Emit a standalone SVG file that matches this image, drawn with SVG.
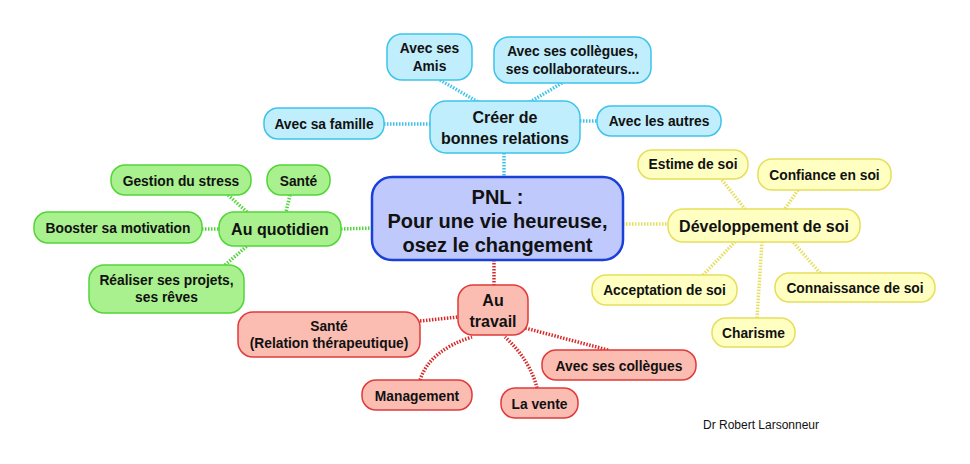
<svg xmlns="http://www.w3.org/2000/svg" width="970" height="464" viewBox="0 0 970 464">
<style>
text{font-family:"Liberation Sans",Arial,sans-serif;font-weight:bold;fill:#111;text-anchor:middle}
.t13{font-size:13.8px}
.t15{font-size:16px}
.t20{font-size:20px}
.c{fill:#c0eefc;stroke:#3ec3ea;stroke-width:1.5}
.g{fill:#a9f08e;stroke:#52d538;stroke-width:1.5}
.y{fill:#ffffc2;stroke:#e6df5c;stroke-width:1.5}
.r{fill:#fbbcb1;stroke:#e03a3a;stroke-width:1.5}
.cl{stroke:#3ec3ea}
.gl{stroke:#52d538}
.yl{stroke:#e6df5c}
.rl{stroke:#d82a2a}
#connectors path{fill:none;stroke-width:3.5;stroke-dasharray:1.5 1.5}
</style>
<rect width="970" height="464" fill="#fff"/>
<g id="connectors">
<path class="cl" d="M440 80 L478 102"/>
<path class="cl" d="M562 83 L530 102"/>
<path class="cl" d="M384 124 L430 124"/>
<path class="cl" d="M580 121 L597 121"/>
<path class="cl" d="M504 153 L504 177"/>
<path class="gl" d="M228 195 L247 212"/>
<path class="gl" d="M290 195 L286 212"/>
<path class="gl" d="M202 229 L219 229"/>
<path class="gl" d="M225 265 L247 246"/>
<path class="gl" d="M341 229 L372 228"/>
<path class="yl" d="M623 224 L668 224"/>
<path class="yl" d="M722 180 L745 209"/>
<path class="yl" d="M798 190 L785 209"/>
<path class="yl" d="M703 275 L735 242"/>
<path class="yl" d="M757 318 L762 242"/>
<path class="yl" d="M820 273 L793 242"/>
<path class="rl" d="M494 260 L494 285"/>
<path class="rl" d="M420 321 L458 317"/>
<path class="rl" d="M420 380 Q430 350 472 337"/>
<path class="rl" d="M537 388 Q530 360 505 337"/>
<path class="rl" d="M608 350 L525 328"/>
</g>
<g id="center"><rect x="372" y="177" width="251" height="83" rx="20" fill="#c0c9fb" stroke="#1a40d8" stroke-width="2.5"/>
<text class="t20" x="497.5" y="204">PNL :</text><text class="t20" x="497.5" y="228">Pour une vie heureuse,</text><text class="t20" x="497.5" y="252">osez le changement</text></g>
<g id="relations"><rect class="c" x="430" y="101" width="150" height="52" rx="16"/><text class="t15" x="505" y="123">Créer de</text><text class="t15" x="505" y="144">bonnes relations</text></g>
<g id="amis"><rect class="c" x="387" y="34" width="85" height="46" rx="15"/><text class="t13" x="429.5" y="53">Avec ses</text><text class="t13" x="429.5" y="71">Amis</text></g>
<g id="collab"><rect class="c" x="494" y="37" width="157" height="46" rx="15"/><text class="t13" x="572.5" y="56">Avec ses collègues,</text><text class="t13" x="572.5" y="74">ses collaborateurs...</text></g>
<g id="famille"><rect class="c" x="264" y="108" width="120" height="31" rx="14"/><text class="t13" x="324" y="129">Avec sa famille</text></g>
<g id="autres"><rect class="c" x="597" y="106" width="124" height="30" rx="14"/><text class="t13" x="659" y="126">Avec les autres</text></g>
<g id="quotidien"><rect class="g" x="219" y="212" width="122" height="34" rx="15"/><text class="t15" x="280" y="235">Au quotidien</text></g>
<g id="stress"><rect class="g" x="111" y="165" width="140" height="30" rx="14"/><text class="t13" x="181" y="186">Gestion du stress</text></g>
<g id="sante-q"><rect class="g" x="267" y="165" width="63" height="30" rx="14"/><text class="t13" x="298.5" y="186">Santé</text></g>
<g id="booster"><rect class="g" x="34" y="212" width="168" height="31" rx="14"/><text class="t13" x="118" y="233">Booster sa motivation</text></g>
<g id="projets"><rect class="g" x="89" y="265" width="155" height="48" rx="15"/><text class="t13" x="166.5" y="285">Réaliser ses projets,</text><text class="t13" x="166.5" y="302">ses rêves</text></g>
<g id="devsoi"><rect class="y" x="668" y="209" width="192" height="33" rx="15"/><text class="t15" x="764" y="232">Développement de soi</text></g>
<g id="estime"><rect class="y" x="638" y="150" width="110" height="29" rx="14"/><text class="t13" x="693" y="169">Estime de soi</text></g>
<g id="confiance"><rect class="y" x="758" y="159" width="133" height="31" rx="14"/><text class="t13" x="824.5" y="180">Confiance en soi</text></g>
<g id="acceptation"><rect class="y" x="592" y="275" width="145" height="30" rx="14"/><text class="t13" x="664.5" y="295">Acceptation de soi</text></g>
<g id="connaissance"><rect class="y" x="775" y="273" width="160" height="29" rx="14"/><text class="t13" x="855" y="293">Connaissance de soi</text></g>
<g id="charisme"><rect class="y" x="712" y="318" width="83" height="29" rx="14"/><text class="t13" x="753.5" y="338">Charisme</text></g>
<g id="travail"><rect class="r" x="458" y="285" width="70" height="50" rx="15"/><text class="t15" x="493" y="306">Au</text><text class="t15" x="493" y="327">travail</text></g>
<g id="sante-t"><rect class="r" x="238" y="312" width="182" height="45" rx="15"/><text class="t13" x="329" y="331">Santé</text><text class="t13" x="329" y="348">(Relation thérapeutique)</text></g>
<g id="management"><rect class="r" x="362" y="380" width="110" height="30" rx="14"/><text class="t13" x="417" y="401">Management</text></g>
<g id="vente"><rect class="r" x="501" y="388" width="77" height="30" rx="14"/><text class="t13" x="539.5" y="409">La vente</text></g>
<g id="collegues"><rect class="r" x="542" y="350" width="154" height="30" rx="14"/><text class="t13" x="619" y="371">Avec ses collègues</text></g>
<text x="761" y="429" style="font-size:12px;font-weight:normal">Dr Robert Larsonneur</text>
</svg>
